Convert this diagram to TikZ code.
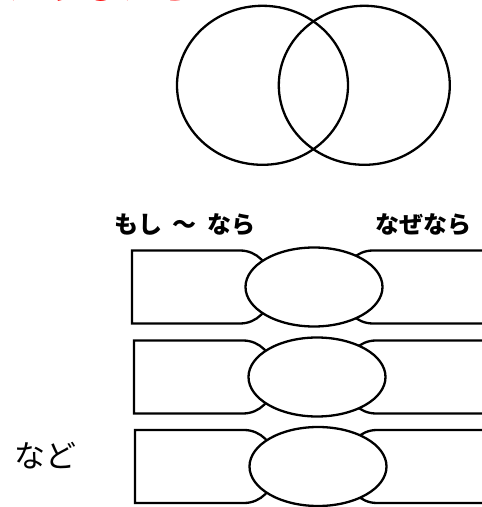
\documentclass[tikz,border=0pt]{standalone}
\usepackage{fontspec}
\newfontfamily\jp{Noto Sans CJK JP}
\usetikzlibrary{shapes.geometric}
\tikzset{
  ln/.style={line width=2.3pt, draw=black},
  oval/.style={ellipse, ln, fill=white, inner sep=0pt, minimum width=137pt, minimum height=79pt},
  venn/.style={ellipse, ln, inner sep=0pt, minimum width=171pt, minimum height=159pt},
  lbl/.style={font=\jp\bfseries\fontsize{24}{24}\selectfont, inner sep=0pt},
}
\begin{document}
\begin{tikzpicture}[x=1pt,y=1pt]
\useasboundingbox (0,0) rectangle (482,507);
% red heading, cut by the top edge
\node[anchor=base west, inner sep=0pt, text=red, font=\jp\fontsize{38}{38}\selectfont] (head) at (6,507) {たりしたら};
% Venn
\node[venn] (v1) at (262.5,421.7) {};
\node[venn] (v2) at (364.3,421.7) {};
% labels
\node[lbl] (if) at (185,282) {もし\hspace{0.45em}〜\hspace{0.45em}なら};
\node[lbl] (why) at (423.5,282) {なぜなら};
\node[font=\jp\fontsize{31}{31}\selectfont, inner sep=0pt] (etc) at (46,51) {など};
% rows
\foreach \L/\cx/\cy/\n in {132/314/287/1, 134/317/377/2, 135/318/466.5/3}{
  \pgfmathsetmacro{\Y}{507-\cy}
  \draw[ln] (\L,\Y+36.5) -- (\cx-74,\Y+36.5) arc[start angle=90,end angle=0,radius=30]
     -- (\cx-44,\Y-6.5) arc[start angle=0,end angle=-90,radius=30] -- (\L,\Y-36.5) -- cycle;
  \draw[ln] (495,\Y+36.5) -- (\cx+59,\Y+36.5) arc[start angle=90,end angle=180,radius=30]
     -- (\cx+29,\Y-6.5) arc[start angle=180,end angle=270,radius=30] -- (495,\Y-36.5);
  \node[oval] (e\n) at (\cx,\Y) {};
}
\end{tikzpicture}
\end{document}
